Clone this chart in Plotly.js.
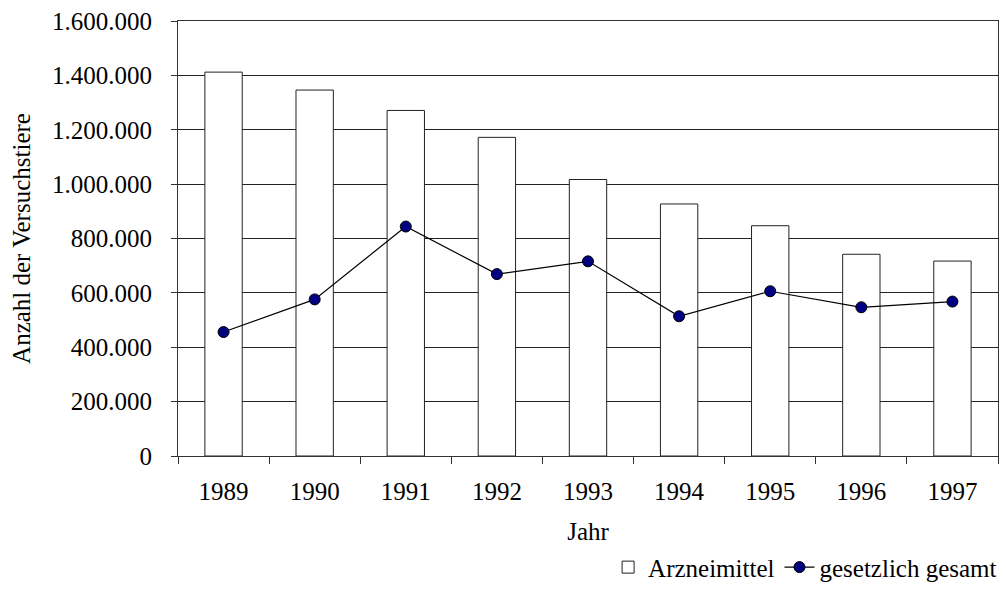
<!DOCTYPE html>
<html>
<head>
<meta charset="utf-8">
<script src="https://cdn.plot.ly/plotly-3.0.1.min.js"></script>
<style>html,body{margin:0;padding:0;background:#fff;}#chart{width:1006px;height:604px;}</style>
</head>
<body>
<div id="chart"></div>
<script>
const years = ['1989','1990','1991','1992','1993','1994','1995','1996','1997'];
const arzneimittel = [1412000, 1346000, 1271000, 1172000, 1017000, 927000, 847000, 742000, 717000];
const gesetzlichGesamt = [456000, 576000, 844000, 669000, 716000, 514000, 606000, 547000, 568000];
const yTickVals = [0, 200000, 400000, 600000, 800000, 1000000, 1200000, 1400000, 1600000];

const font = {family: 'Liberation Serif, Times New Roman, serif', color: '#000', size: 25};

const traces = [
  {
    type: 'bar', name: 'Arzneimittel', x: years, y: arzneimittel,
    width: 0.41,
    marker: {color: '#fff', line: {color: '#222', width: 1}},
    hoverinfo: 'x+y'
  },
  {
    type: 'scatter', mode: 'lines+markers', name: 'gesetzlich gesamt', x: years, y: gesetzlichGesamt,
    line: {color: '#000', width: 1.2},
    marker: {color: '#000080', size: 11, line: {color: '#000', width: 1}}
  }
];

const layout = {
  width: 1006, height: 604,
  margin: {l: 178, r: 4, t: 21, b: 148},
  paper_bgcolor: '#fff', plot_bgcolor: '#fff',
  font: font,
  separators: ',.',
  showlegend: true,
  legend: {
    orientation: 'h', x: 1.005, xanchor: 'right', y: -0.256, yanchor: 'middle',
    font: font, bgcolor: 'rgba(0,0,0,0)', traceorder: 'normal', itemwidth: 30
  },
  xaxis: {
    type: 'category', categoryorder: 'array', categoryarray: years,
    range: [-0.5, 8.5],
    tickson: 'boundaries', ticks: 'outside', ticklen: 7, tickcolor: '#333', tickwidth: 1,
    showline: true, linecolor: '#333', linewidth: 1, mirror: true,
    showgrid: false, zeroline: false,
    tickfont: font, ticklabelstandoff: 13,
    title: {text: 'Jahr', font: font, standoff: 18}
  },
  xaxis2: {
    overlaying: 'x', type: 'linear', range: [-0.5, 8.5],
    tick0: 0.5, dtick: 1, ticks: 'inside', ticklen: 9, tickcolor: '#333', tickwidth: 1,
    showticklabels: false, showgrid: false, zeroline: false, showline: false,
    anchor: 'y'
  },
  yaxis: {
    range: [0, 1600000], tickvals: yTickVals, tickformat: ',d',
    ticks: 'outside', ticklen: 6, tickcolor: '#333', tickwidth: 1,
    showline: true, linecolor: '#333', linewidth: 1, mirror: true,
    showgrid: true, gridcolor: '#222', gridwidth: 1, zeroline: false,
    tickfont: font, ticklabelstandoff: 14,
    title: {text: 'Anzahl der Versuchstiere', font: font, standoff: 14}
  }
};

Plotly.newPlot('chart', traces, layout, {displayModeBar: false, staticPlot: true});
</script>
</body>
</html>
